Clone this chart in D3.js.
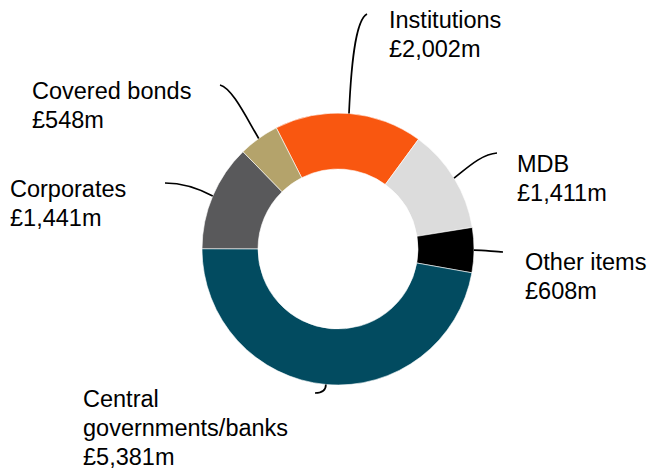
<!DOCTYPE html>
<html>
<head>
<meta charset="utf-8">
<script src="https://cdn.jsdelivr.net/npm/d3@7/dist/d3.min.js"></script>
<style>
  html, body { margin: 0; padding: 0; background: #fff; }
  svg { display: block; }
  text { font-family: "Liberation Sans", Arial, sans-serif; font-size: 23.5px; fill: #000; }
</style>
</head>
<body>
<svg id="chart" width="650" height="473"></svg>
<script>
// Exposure breakdown, £m
const categories = ["Institutions", "MDB", "Other items", "Central governments/banks", "Corporates", "Covered bonds"];
const values = [2002, 1411, 608, 5381, 1441, 548];
const colors = ["#f95710", "#dcdcdc", "#000000", "#024b60", "#59595b", "#b4a36b"];
// label text lines per category
const labelLines = [
  ["Institutions", "£2,002m"],
  ["MDB", "£1,411m"],
  ["Other items", "£608m"],
  ["Central", "governments/banks", "£5,381m"],
  ["Corporates", "£1,441m"],
  ["Covered bonds", "£548m"]
];

const svg = d3.select("#chart");
const cx = 338, cy = 249, rOuter = 136, rInner = 80;
const g = svg.append("g").attr("transform", `translate(${cx},${cy})`);

const startDeg = -27;
const pie = d3.pie().sort(null)
  .startAngle(startDeg * Math.PI / 180)
  .endAngle((startDeg + 360) * Math.PI / 180);
const arcs = pie(values);
const arc = d3.arc().innerRadius(rInner).outerRadius(rOuter);

g.selectAll("path.slice").data(arcs).enter().append("path")
  .attr("class", "slice")
  .attr("d", arc)
  .attr("fill", (d, i) => colors[i])
  .attr("stroke", "#fff")
  .attr("stroke-width", 0.6);

// Label placement (first baseline) and leader-line geometry.
// Leaders run from the slice's mid-angle on the outer edge to an anchor beside the label;
// c1/c2 are the bezier handles, relative to the start and end respectively.
const labelPos = [
  { x: 389, y: 28,  end: [367, 14],  c1: [2, -45],  c2: [-12, 6] },
  { x: 517, y: 172, end: [497, 153], c1: [14, -11], c2: [-15, 1] },
  { x: 525, y: 270, end: [503, 252], c1: [11, 0],   c2: [-8, 0] },
  { x: 83,  y: 407, end: [315, 393], c1: [0, 6],    c2: [6, 0] },
  { x: 10,  y: 197, end: [165, 183], c1: [-13, -7], c2: [20, 0] },
  { x: 32,  y: 99,  end: [220, 85],  c1: [-13, -22], c2: [12, 3] }
];

arcs.forEach((d, i) => {
  const L = labelPos[i];
  const a = (d.startAngle + d.endAngle) / 2;
  const sx = cx + Math.sin(a) * rOuter, sy = cy - Math.cos(a) * rOuter;
  const [ex, ey] = L.end;
  const p = d3.path();
  p.moveTo(sx, sy);
  p.bezierCurveTo(sx + L.c1[0], sy + L.c1[1], ex + L.c2[0], ey + L.c2[1], ex, ey);
  svg.append("path")
    .attr("d", p.toString())
    .attr("fill", "none")
    .attr("stroke", "#000")
    .attr("stroke-width", 1.7);
});

labelLines.forEach((lines, i) => {
  const t = svg.append("text")
    .attr("x", labelPos[i].x)
    .attr("y", labelPos[i].y);
  lines.forEach((ln, j) => {
    t.append("tspan").attr("x", labelPos[i].x).attr("dy", j === 0 ? 0 : 29).text(ln);
  });
});
</script>
</body>
</html>
